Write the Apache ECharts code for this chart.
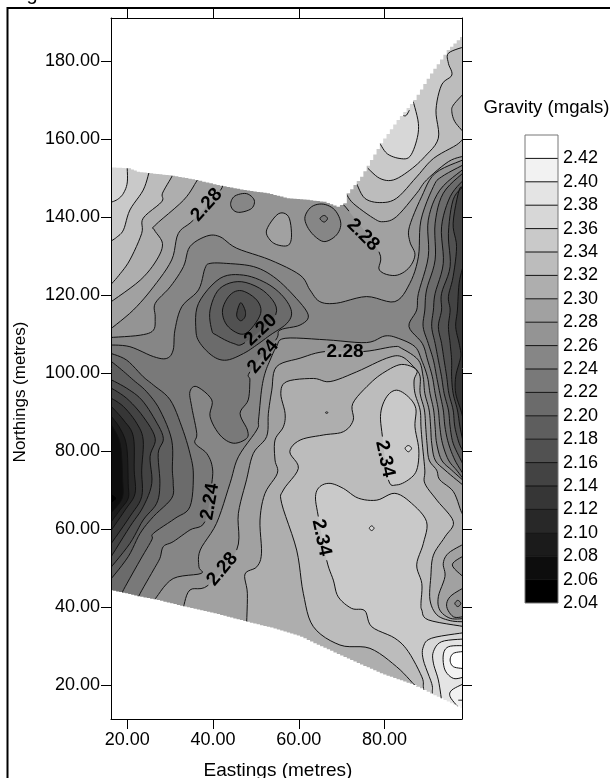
<!DOCTYPE html>
<html><head><meta charset="utf-8">
<style>html,body{margin:0;padding:0;background:#fff}#c{width:610px;height:778px}</style>
<script src="https://cdn.jsdelivr.net/npm/echarts@6/dist/echarts.min.js"></script>
</head><body><div id="c"></div>
<script>
// ---------- tick labels and levels ----------
const eastingTicks = [20,40,60,80];
const northingTicks = [20,40,60,80,100,120,140,160,180];
const legendLevels = [2.04,2.06,2.08,2.10,2.12,2.14,2.16,2.18,2.20,2.22,2.24,2.26,2.28,2.30,2.32,2.34,2.36,2.38,2.40,2.42];

// ---------- blanking boundaries of the gridded area [easting, northing] ----------
const edgeTop = [[16,152.7],[20.2,152.5],[22.2,151.6],[25.3,151.2],[30.35,150.6],[35.8,149.5],[40.8,148.2],[47.1,146.9],[52.5,146.1],[57.2,144.8],[61.8,144.4],[65.7,143.9],[68.8,142.6],[70.4,143.5],[71.2,146.1],[74.3,150.3],[76.6,154.6],[78.9,158.9],[82.8,164.9],[86.7,170],[90.6,176.8],[94.5,182.8],[98.4,187]];
const edgeBottom = [[16,44.3],[19.5,43.5],[23,42.6],[26.85,41.8],[33.1,40.1],[40.1,38.4],[47.8,36.2],[54.1,34.5],[60.3,32.4],[63.4,30.7],[71.2,26.8],[78.9,23],[86.7,20],[91.4,17.4],[98.4,13.7]];

// ---------- contour lines [easting, northing]; null = gap for a label ----------
// upper left
const nw236 = [[19.9,154],[20,149],[19.1,146.1],[17.7,144.5],[16,143.7]];
const nw234 = [[25.3,152.5],[25.1,151.6],[23.7,146.9],[20.6,141.8],[19.1,136.7],[17.5,134.8],[16,133.7]];
const nw232 = [[30.7,151.5],[30.35,150.3],[28.2,146.1],[28,143.9],[23.7,139.7],[23.35,135.8],[20.6,129],[18,125],[16,122.5]];
const nw230 = [[36.5,150],[36,148.9],[33.1,144.3],[26.5,137.9],[26.3,136.7],[28.2,133.2],[26.85,129],[23,123.8],[16,118.1]];
const nw228 = [[41.9,149],[41.7,146.8],null,[35.4,139.2],[31.9,135.8],[30.35,129],[26.1,122.1],[21.4,116.15],[16,111.2]];
// rings under the top edge
const ringA226 = [[44.1,143.5],[45.1,145.4],[47.8,146],[49.6,144.35],[49,142.2],[46.3,141.2],[44.7,141.8]];
const ringB228 = [[52.5,136.7],[55.2,140.8],[57.6,140.1],[58.3,135.4],[57.6,132.8],[55.2,132.8],[53.3,134.1]];
const ringC226 = [[61.45,140.1],[63,142.65],[65.7,143.3],[68.4,141.8],[69.8,138.4],[68.8,135.4],[66.1,133.7],[63.8,135],[62,137.5]];
const ringC224 = [[64.95,139.6],[65.9,140.4],[66.7,139.6],[65.9,138.7]];
// upper right
const ne228 = [[70,143.5],[71.7,141.5],null,[78.7,131.1],[78.8,126.4],[82.4,125],[85.55,126.8],[87.1,130.3],[85.9,133.7],[85.8,137.5],[88.65,145.2],[91.8,151.2],[98.4,154.7]];
const ne230 = [[71,146.1],[72.7,143.5],[77.4,139.7],[79.7,138.8],[82.8,140.1],[87.5,146.1],[89.8,149.5],[94.9,154.2],[98.4,155.6]];
const ne232 = [[73.5,148.5],[75.4,144.8],[78.9,143.7],[82.8,144.8],[87.5,150.3],[91.4,155],[96.8,158.5],[98.4,160.2]];
const ne234 = [[76.1,152.5],[78.9,149.9],[82.05,149.5],[85.9,152],[89.4,155.5],[92.55,160.2],[92,167.4],[93.3,173.85],[95.7,176.4],[94.9,179.4],[94.9,182],[98.4,183.6]];
const ne236 = [[78.9,158.9],[80.65,156.2],[83.6,155],[85.9,155.5],[87.5,159.7],[87.9,164],[86.7,169.6]];
const ne238 = [[84,166.15],[85,166],[85.8,167.4]];
const neLobe232 = [[98.4,171.6],[96.05,168.7],[95.7,167],[96.4,164.45],[98.4,161.8]];
// the central band
const mid226n = [[16,109.1],[23,109.7],[26.1,111],[26.5,114.4],[26.5,117.85],[30,122.1],[33.1,127.3],[34.6,132.4],[38.5,135.1],[41.6,134.95],[45.5,132],[53.3,129],[60.3,125.1],[62.6,121.3],[64.9,118.3],[68.8,117.9],[75.8,119.6],[82.4,118.3],[85.9,123],[87.9,129.8],[88.5,139.2],[91.4,147.8],[93.3,150.3],[98.4,153.4]];
const mid226s = [[26.5,41.4],[26.85,42.6],[30.7,47.3],[37.2,48.6],[36.7,50.3],[37,54.6],[40.8,61.45],[43.95,71.7],[45.9,78.5],[50.2,85.4],[50.6,87.9],[51.3,95.6],[52.1,99.9],[53.3,103.3],[54.8,106.75],[56.8,108.9],[66.5,108.5],[75.8,107.8],[80.1,109.5],[83.2,108.9],[87.1,106.75],[88.65,103.3],[90,99.05],[90.6,94.8],[91.45,90.5],[91.8,86.2],[92.15,82],[93.3,77.7],[95.65,75.1],[98.4,72.4]];
const mid224 = [[16,107.2],[20.6,106.75],[26.1,104.2],[29.2,103.75],[30.7,105.9],[31.1,111],[32.7,117],[36.6,121.3],[38.1,126.8],[39.3,128.1],[43.2,128.1],[49.4,127.3],[54.1,124.7],[58.7,120],[62.2,114.9],[60.3,112.3],[55.6,111],[54.6,108.4],null,[48.6,100.3],[48.6,98.2],[48.2,93.1],[46.3,89.65],[48,85.4],[47.8,83.2],[44.7,82],[41.6,84.1],[39.3,88.8],[39.7,93.1],[36.2,96.5],[34.6,95.2],[35,91.4],[36.2,84.5],[35.8,82],[38.5,79.4],[39.8,76],[39.7,71.7],null,[38.1,61.9],[34.6,59.75],[30.7,56.75],[28.4,55.5],[27.6,52.5],[26.1,49.5],[23,43.5],[22.3,41.5]];
const ringCentre222 = [[36,111],[37,107.6],[40.1,104.2],[43.2,103.3],[47.1,105],[50.2,107.2],[53.3,109.7],[57.2,112.7],[58.3,115.7],[56.4,119.55],[52.5,123],[47.1,125.1],[41.6,124.25],[36.6,117.85]];
const ringCentre220 = [[54.6,114.9],[52.5,120.4],[46.7,123.4],[41.6,121.7],[39.3,116.15],[39.7,111],[40.8,109.7],[44.7,107.6],[47.45,107.8],null];
const ringCentre218 = [[42.2,116.15],[43.95,120],[46.7,121.1],[50.2,118.7],[51.1,115.3],[48.6,111],[46.3,110],[43.2,112.3]];
const ringCentre216 = [[45.5,114.9],[46.4,118],[47.45,116.15],[47.45,114.4],[46.4,113.4]];
// western low
const west222 = [[16,105.1],[19.85,103.3],[23.7,99.05],[26.1,96.9],[30,93.1],[32.7,86.2],[34.6,79.4],[35.4,73.85],[34.6,65.7],[31.1,62.7],[26.1,58.9],[25.7,57.2],[23,52.05],[19.5,45.2],[18.3,42.6]];
const west220 = [[16,103.2],[18.7,100.8],[21.4,98.2],[24.5,95.2],[27.6,90.5],[30.35,82.8],[30.5,75.1],[30.7,71.7],[30.35,67.9],[26.1,63.2],[23,58.9],[20.2,52.9],[16,46.9]];
const west218 = [[16,98.4],[19.85,96.1],[23.35,93.1],[26.5,87.95],[28.4,83.25],[27.2,79.4],[27.6,71.7],[26.85,66.6],[23.7,62.3],[20.6,56.3],[16,49.9]];
const west216 = [[16,96.3],[19.85,93.5],[23.7,88.8],[26.5,83.25],[25.3,78.55],[25.7,71.7],[23.7,65.7],[20.6,60.6],[16,52.5]];
const west214 = [[16,93.7],[19.1,91.4],[22.2,87.1],[23.7,82.8],[23.35,75.1],[23.35,68.3],[20.6,63.2],[16,55.9]];
const west212 = [[16,91.7],[19.1,87.95],[21.4,83.7],[21.6,75.1],[21.8,69.1],[19.5,64.9],[16,59.3]];
const west210 = [[16,89.2],[18.3,85.8],[19.85,81.1],[20.2,71.7],[20.2,67.9],[18.3,64.9],[16,61.5]];
const west208 = [[16,87.2],[18.3,82],[18.9,72.6],[18.9,68.3],[17.5,65.7],[16,64]];
const west206 = [[16,69.3],[17.5,67.85],[16,66.4]];
// eastern low
const east224 = [[98.4,152.3],[92.9,146.9],[90.2,139.2],[90.2,129.8],[87.9,120.4],[87.5,116.15],[85.7,111.9],[88.8,107.6],[90.05,103.3],[91.15,99.05],[91.8,94.8],[92.55,90.5],[92.9,86.2],[93.5,82],[94.9,77.7],[96.8,75.1],[98.4,72.8]];
const east222 = [[98.4,151.4],[93.7,146.1],[91.8,138.4],[91.8,129],[89.8,121.3],[89.4,116.15],[89,111.9],[90.2,107.6],[91.4,103.3],[92.15,99.05],[92.9,94.8],[93.7,90.5],[94.1,86.2],[94.9,82],[96.4,77.7],[98.4,74]];
const east220 = [[98.4,149.5],[95.3,145.2],[93.3,137.5],[93.7,128.1],[91.8,120.4],[91.4,116.15],[91,111.9],[91.8,107.6],[92.55,103.3],[93.3,99.05],[93.9,94.8],[94.9,90.5],[95.3,86.2],[96,82],[97.8,77.7],[98.4,76.4]];
const east218 = [[98.4,147.9],[96,144.4],[94.9,135.8],[95.3,127.3],[93.3,120.4],[93.3,116.15],[92.55,111.9],[93.3,107.6],[93.9,103.3],[94.5,99.05],[95,94.8],[96,90.5],[96.4,86.2],[97.4,82],[98.4,79.8]];
const east216 = [[98.4,147.4],[97.4,146.9],[96,138.4],[96.8,132.4],[96,124.7],[94.9,119.6],[95.3,116.15],[94.9,111.9],[95.3,107.6],[95.65,103.3],[95.65,99.05],[96,94.8],[97,90.5],[97.6,86.2],[98.4,82]];
const east214 = [[98.4,127.7],[97.4,123],[97,116.15],[96.6,111.9],[97.4,107.6],[97.8,105],[97.6,103.3],[96.6,99.05],[96.6,94.8],[97.8,90.5],[98.4,88]];
// southern plateau
const south228 = [[32.7,39.2],[33.1,40.1],[34.6,44.35],[38.9,45.6],null,[45.5,54.6],[45.9,64],[47.8,72.6],[49.4,79.4],[52.5,83.7],[52.9,89.65],[53.7,95.6],[54.8,101.6],[60.3,103.8],[66.1,105.5],null,[75.05,105.5],[82.05,106.75],[84,106.3],[87.9,103.3],[89,99.05],[89.4,94.8],[90.4,90.5],[90.75,86.2],[91,82],[91.8,77.7],[94.1,75.1],[97.8,71.7],[98.4,71.2]];
const south230 = [[47.8,35],[48,43.5],[47.45,48.45],[50.2,50.3],[51.3,53.8],[50.95,62.3],[52.1,69.1],[55,74.3],[54.45,77.7],[54.45,82.8],[56.4,86.2],[56.8,89.65],[55.8,94.8],[57.2,97.8],[63.4,98.6],[67.3,97.8],[73.5,100.3],[80.5,103.8],[84,104.2],[87.1,101.2],[88.3,99.05],[88.3,94.8],[89.3,90.5],[89.6,86.2],[89.9,82],[90.4,77.7],[92.15,75.1],[92.9,72.6],[96.05,69.6],[97.8,64.7],[98.4,63.5]];
const south232 = [[98.4,36.2],[95.3,36.5],[92.2,38],[90.6,41.8],[90.8,47.8],[91.4,53.3],[94.1,58],[96.05,61.9],[92.2,67.4],[89.4,71.7],[89.4,75.1],[88.8,82],[88.5,86.2],[88.3,90.5],[87.1,94.8],[86.9,98.2],[87.5,100.8],[84,102.2],[80.1,100.3],[76.6,97.3],[72.6,92.2],[72.7,87.9],[70.4,84.95],[65.7,84.1],[60.3,82.8],[57.9,79.8],[59.9,75.55],[56.4,70],[56,66.6],[59.5,54.6],[61.05,43.5],[63.4,34.95],[69.6,30.25],[76.6,29.4],[82.8,24.7],[87,20],[88.3,18.7]];
const south234 = [[98.4,35],[90.2,36.7],[88.7,39.2],[88.5,40.9],[88.7,46],[87.5,50.8],[89.05,56.3],[89.8,61.9],[86.3,66.6],[82.4,69.15],[78.2,67.4],[73.9,67.9],[70.4,70.4],[67.3,71.7],[64.9,70.85],[63.9,68.3],[64.55,63.2],null,[66.5,52],[68.05,46.9],[69.2,42.6],[72.3,39.65],[75.4,39.05],[77,34.95],[82.4,32],[85.55,28.55],[88.7,22.1],[89.05,19.6],[89.2,17.9]];
const ringNorth234 = [[80.9,72.6],[82.8,71.3],[85.55,72.6],[87.5,75.1],[88,80.25],[87.1,86.2],[87.3,90.9],[85.55,93.9],[82.8,95.6],[80.5,93.9],[79.1,89.65],[79.5,83.7],null];
const ringNorth236 = [[84.8,80.7],[85.55,81.4],[86.3,80.7],[85.55,79.8]];
const ringMiddle236 = [[76.45,60.2],[77,60.8],[77.55,60.2],[77,59.6]];
const speck234 = [[66.3,90],[66.7,90],[66.7,89.7],[66.3,89.7]];
const lobeSE230 = [[98.4,56.1],[94.9,53.8],[93.7,51.2],[94.1,47.8],[92.55,42.65],[92.9,39.2],[95.3,37.1],[98.4,37]];
const lobeSE228a = [[98.4,53.1],[95.8,50.8],[98.4,47.7]];
const lobeSE228b = [[98.4,44.9],[95.3,42.65],[94.5,40.1],[96.05,37.5],[98.4,37.5]];
const ringSE226 = [[96.4,40.9],[97.1,41.7],[97.8,40.9],[97.1,40.1]];
// south-eastern high
const se236 = [[98.4,33.4],[91,32],[89.05,29.8],[89.05,26.4],[91,20.4],[91.15,18.3],[91.2,17]];
const se238 = [[98.4,31.8],[93.3,31.1],[91.4,28.55],[91.4,25.6],[92.55,21.3],[93.3,16.15]];
const se240 = [[98.4,30.1],[94.9,29.8],[93.7,27.7],[94.1,23.85],[96.05,21.7],[98.4,22]];
const se242 = [[98.4,28.6],[96.05,28.1],[95.3,26.4],[96.05,24.7],[98.4,24.2]];
const se240b = [[98.4,20.3],[95.7,18.7],[95.3,17],[97.2,14.3]];
const seTick = [[97.2,16.1],[98.4,16.1]];

// ---------- contour labels: text, easting, northing, slope in degrees ----------
const contourLabels = [
  ['2.28',38.5,143.1,48],['2.20',51.1,111.0,43],['2.24',51.7,104.2,50],
  ['2.28',75.0,135.4,-45],['2.28',70.8,105.5,0],['2.34',80.1,78.0,-78],
  ['2.34',65.3,57.8,-78],['2.24',39.3,67.0,80],['2.28',42.2,49.7,50]
];

// ---------- painting order: [band index, contour, outside corners, contour, ...] ----------
const FAR_W=5, FAR_E=105, FAR_S=3, FAR_N=200;
const regions = [
  [11,[],[[FAR_W,FAR_S],[FAR_E,FAR_S],[FAR_E,FAR_N],[FAR_W,FAR_N]]],
  [12,nw228,[[FAR_W,111.2],[FAR_W,FAR_N],[41.9,FAR_N]]],
  [13,nw230,[[FAR_W,118.1],[FAR_W,FAR_N],[36.5,FAR_N]]],
  [14,nw232,[[FAR_W,122.5],[FAR_W,FAR_N],[30.7,FAR_N]]],
  [15,nw234,[[FAR_W,133.7],[FAR_W,FAR_N],[25.3,FAR_N]]],
  [16,nw236,[[FAR_W,143.7],[FAR_W,FAR_N],[19.9,FAR_N]]],
  [10,ringA226],[12,ringB228],[10,ringC226],[9,ringC224],
  [12,ne228,[[FAR_E,154.7],[FAR_E,FAR_N],[70,FAR_N]]],
  [13,ne230,[[FAR_E,155.6],[FAR_E,FAR_N],[71,FAR_N]]],
  [14,ne232,[[FAR_E,160.2],[FAR_E,FAR_N],[73.5,FAR_N]]],
  [15,ne234,[[FAR_E,183.6],[FAR_E,FAR_N],[76.1,FAR_N]]],
  [13,neLobe232,[[FAR_E,161.8],[FAR_E,171.6]]],
  [16,ne236,[[78,175]]],
  [10,mid226n,[[FAR_E,153.4],[FAR_E,72.4]],[...mid226s].reverse(),[[FAR_W,40],[FAR_W,109.1]]],
  [9,mid224,[[FAR_W,41.5],[FAR_W,107.2]]],
  [8,west222,[[FAR_W,42.6],[FAR_W,105.1]]],
  [8,ringCentre222],[7,ringCentre220],[6,ringCentre218],[5,ringCentre216],
  [7,west220,[[FAR_W,46.9],[FAR_W,103.2]]],
  [6,west218,[[FAR_W,49.9],[FAR_W,98.4]]],
  [5,west216,[[FAR_W,52.5],[FAR_W,96.3]]],
  [4,west214,[[FAR_W,55.9],[FAR_W,93.7]]],
  [3,west212,[[FAR_W,59.3],[FAR_W,91.7]]],
  [2,west210,[[FAR_W,61.5],[FAR_W,89.2]]],
  [1,west208,[[FAR_W,64],[FAR_W,87.2]]],
  [0,west206,[[FAR_W,66.4],[FAR_W,69.3]]],
  [9,east224,[[FAR_E,72.8],[FAR_E,152.3]]],
  [8,east222,[[FAR_E,74],[FAR_E,151.4]]],
  [7,east220,[[FAR_E,76.4],[FAR_E,149.5]]],
  [6,east218,[[FAR_E,79.8],[FAR_E,147.9]]],
  [5,east216,[[FAR_E,82],[FAR_E,147.4]]],
  [4,east214,[[FAR_E,88],[FAR_E,127.7]]],
  [12,south228,[[FAR_E,71.2],[FAR_E,FAR_S],[32.7,FAR_S]]],
  [13,south230,[[FAR_E,63.5],[FAR_E,FAR_S],[47.8,FAR_S]]],
  [12,lobeSE230,[[FAR_E,37],[FAR_E,56.1]]],
  [11,lobeSE228a,[[FAR_E,47.7],[FAR_E,53.1]]],
  [11,lobeSE228b,[[FAR_E,37.5],[FAR_E,44.9]]],
  [10,ringSE226],
  [14,south232,[[88.3,FAR_S],[FAR_E,FAR_S],[FAR_E,36.2]]],
  [15,south234,[[89.2,FAR_S],[FAR_E,FAR_S],[FAR_E,35]]],
  [15,ringNorth234],[16,ringNorth236],[16,ringMiddle236],[15,speck234],
  [16,se236,[[91.2,FAR_S],[FAR_E,FAR_S],[FAR_E,33.4]]],
  [17,se238,[[93.3,FAR_S],[FAR_E,FAR_S],[FAR_E,31.8]]],
  [18,se240,[[FAR_E,22],[FAR_E,30.1]]],
  [19,se242,[[FAR_E,24.2],[FAR_E,28.6]]],
  [18,se240b,[[97.2,FAR_S],[FAR_E,FAR_S],[FAR_E,20.3]]]
];
const openLines = [nw236,nw234,nw232,nw230,nw228,ne228,ne230,ne232,ne234,ne236,ne238,neLobe232,mid226n,mid226s,mid224,west222,west220,west218,west216,west214,west212,west210,west208,west206,east224,east222,east220,east218,east216,east214,south228,south230,south232,south234,lobeSE230,lobeSE228a,lobeSE228b,se236,se238,se240,se242,se240b,seTick];
const closedLines = [ringA226,ringB228,ringC226,ringC224,ringCentre222,ringCentre220,ringCentre218,ringCentre216,ringNorth234,ringNorth236,ringMiddle236,speck234,ringSE226];

// ---------- helpers ----------
const gray = b => { const v = Math.round(255*b/19); return `rgb(${v},${v},${v})`; };
const FONT = '"Liberation Sans", Arial, sans-serif';
function parse(c, api){
  const pts=[], brk=new Set();
  c.forEach(p=>{ if(p===null) brk.add(pts.length-1); else pts.push(api.coord(p)); });
  return {pts,brk};
}
function segments(pts, closed){
  const n=pts.length, out=[], count=closed?n:n-1;
  for(let i=0;i<count;i++){
    const a=pts[closed?(i-1+n)%n:Math.max(i-1,0)], b=pts[i], c=pts[(i+1)%n], d=pts[closed?(i+2)%n:Math.min(i+2,n-1)];
    const seg=[];
    for(let k=0;k<=6;k++){
      const t=k/6,t2=t*t,t3=t2*t;
      seg.push([0,1].map(j=>0.5*(2*b[j]+(c[j]-a[j])*t+(2*a[j]-5*b[j]+4*c[j]-d[j])*t2+(3*b[j]-a[j]-3*c[j]+d[j])*t3)));
    }
    out.push(seg);
  }
  return out;
}
function stairs(edge, api){
  const px=edge.map(p=>api.coord(p)), out=[px[0]];
  for(let i=0;i<px.length-1;i++){
    const dx=px[i+1][0]-px[i][0], dy=px[i+1][1]-px[i][1], n=Math.max(1,Math.ceil(Math.abs(dx)/3.6));
    for(let k=1;k<=n;k++){
      const x=px[i][0]+dx*k/n, y=px[i][1]+dy*k/n;
      out.push([x,y-dy/n],[x,y]);
    }
  }
  return out;
}

const chart = echarts.init(document.getElementById('c'), null, {renderer:'canvas'});
const tickLabel = {color:'#000', fontFamily:FONT, fontSize:18};
const blankElement = (edge, api, far) => ({type:'polygon', shape:{points:[...stairs(edge,api), api.coord([FAR_E,far]), api.coord([FAR_W,far])]}, style:{fill:'#fff'}});

chart.setOption({
  animation:false,
  backgroundColor:'#fff',
  grid:[
    {left:111, top:18, width:351, height:701, containLabel:false},
    {left:525, top:135, width:33, height:468, show:true, borderColor:'#777', borderWidth:1, backgroundColor:'transparent', z:10}
  ],
  xAxis:[
    {type:'value', gridIndex:0, position:'bottom', min:16.19, max:98.07, z:5, splitLine:{show:false},
     axisLine:{show:true,onZero:false,lineStyle:{color:'#000',width:1}},
     axisTick:{show:true,length:10,customValues:eastingTicks,lineStyle:{color:'#000'}},
     axisLabel:{...tickLabel,margin:12,customValues:eastingTicks,formatter:v=>v.toFixed(2)}},
    {type:'value', gridIndex:0, position:'top', min:16.19, max:98.07, z:5, splitLine:{show:false},
     axisLine:{show:true,onZero:false,lineStyle:{color:'#000',width:1}},
     axisTick:{show:true,length:10,customValues:eastingTicks,lineStyle:{color:'#000'}},
     axisLabel:{show:false}},
    {type:'value', gridIndex:1, min:0, max:1, show:false}
  ],
  yAxis:[
    {type:'value', gridIndex:0, position:'left', min:11.28, max:191.03, z:5, splitLine:{show:false},
     axisLine:{show:true,onZero:false,lineStyle:{color:'#000',width:1}},
     axisTick:{show:true,length:10,customValues:northingTicks,lineStyle:{color:'#000'}},
     axisLabel:{...tickLabel,margin:11,customValues:northingTicks,formatter:v=>v.toFixed(2)}},
    {type:'value', gridIndex:0, position:'right', min:11.28, max:191.03, z:5, splitLine:{show:false},
     axisLine:{show:true,onZero:false,lineStyle:{color:'#000',width:1}},
     axisTick:{show:true,length:10,customValues:northingTicks,lineStyle:{color:'#000'}},
     axisLabel:{show:false}},
    {type:'value', gridIndex:1, position:'right', min:2.04, max:2.44, interval:0.02, splitLine:{show:false},
     axisLine:{show:false}, axisTick:{show:false},
     axisLabel:{...tickLabel,margin:5,showMaxLabel:true,formatter:v=>v>2.43?'':v.toFixed(2)}}
  ],
  series:[
    {type:'custom', name:'bands', coordinateSystem:'cartesian2d', xAxisIndex:0, yAxisIndex:0, clip:true, silent:true, z:2,
     data:regions.map((r,i)=>[i]),
     renderItem(params,api){
       const r=regions[api.value(0)], seq=r.slice(1), points=[];
       if(seq.length===1){
         segments(parse(seq[0],api).pts,true).forEach(s=>points.push(...s));
       } else {
         seq.forEach((part,i)=>{
           if(i%2===0){ if(part.length) segments(parse(part,api).pts,false).forEach(s=>points.push(...s)); }
           else part.forEach(p=>points.push(api.coord(p)));
         });
       }
       return {type:'polygon',shape:{points},style:{fill:gray(r[0])},z2:api.value(0)};
     }},
    {type:'custom', name:'contours', coordinateSystem:'cartesian2d', xAxisIndex:0, yAxisIndex:0, clip:true, silent:true, z:3,
     data:[...openLines.map((c,i)=>[i,0]),...closedLines.map((c,i)=>[i,1])],
     renderItem(params,api){
       const closed=api.value(1)===1, c=(closed?closedLines:openLines)[api.value(0)];
       const {pts,brk}=parse(c,api), runs=[]; let run=[];
       segments(pts,closed).forEach((s,i)=>{
         if(brk.has(i)){ if(run.length) runs.push(run); run=[]; }
         else run.push(...s);
       });
       if(run.length) runs.push(run);
       return {type:'group',children:runs.map(points=>({type:'polyline',shape:{points},style:{stroke:'#111',lineWidth:1,fill:null}}))};
     }},
    {type:'custom', name:'blank', coordinateSystem:'cartesian2d', xAxisIndex:0, yAxisIndex:0, clip:true, silent:true, z:4,
     data:[[0],[1]],
     renderItem(params,api){
       return api.value(0)===0 ? blankElement(edgeTop,api,FAR_N) : blankElement(edgeBottom,api,FAR_S);
     }},
    {type:'custom', name:'contour labels', coordinateSystem:'cartesian2d', xAxisIndex:0, yAxisIndex:0, clip:false, silent:true, z:6,
     data:contourLabels.map((l,i)=>[i]),
     renderItem(params,api){
       const l=contourLabels[api.value(0)], p=api.coord([l[1],l[2]]);
       return {type:'text',x:p[0],y:p[1],rotation:l[3]*Math.PI/180,
         style:{text:l[0],font:`bold 19px ${FONT}`,fill:'#000',align:'center',verticalAlign:'middle'}};
     }},
    {type:'custom', name:'legend', coordinateSystem:'cartesian2d', xAxisIndex:2, yAxisIndex:2, clip:false, silent:true, z:2,
     data:legendLevels.map((l,i)=>[i]),
     renderItem(params,api){
       const i=api.value(0), l=legendLevels[i], a=api.coord([0,l+0.02]), b=api.coord([1,l]);
       const children=[{type:'rect',shape:{x:a[0],y:a[1],width:b[0]-a[0],height:b[1]-a[1]},style:{fill:gray(i)}}];
       if(i>0) children.push({type:'line',shape:{x1:a[0],y1:b[1],x2:b[0],y2:b[1]},style:{stroke:'#111',lineWidth:1}});
       return {type:'group',children};
     }}
  ],
  graphic:{elements:[
    {type:'polyline',silent:true,shape:{points:[[7.5,778],[7.5,8],[610,8]]},style:{stroke:'#000',lineWidth:2,fill:null}},
    {type:'text',silent:true,x:32,y:4,style:{text:'g',font:`20px ${FONT}`,fill:'#000',align:'center',verticalAlign:'bottom'}},
    {type:'text',silent:true,x:278,y:771,style:{text:'Eastings (metres)',font:`19px ${FONT}`,fill:'#000',align:'center',verticalAlign:'middle'}},
    {type:'text',silent:true,x:20,y:392,rotation:Math.PI/2,style:{text:'Northings (metres)',font:`17px ${FONT}`,fill:'#000',align:'center',verticalAlign:'middle'}},
    {type:'text',silent:true,x:546.5,y:108,style:{text:'Gravity (mgals)',font:`18.6px ${FONT}`,fill:'#000',align:'center',verticalAlign:'middle'}}
  ]}
});
</script></body></html>
